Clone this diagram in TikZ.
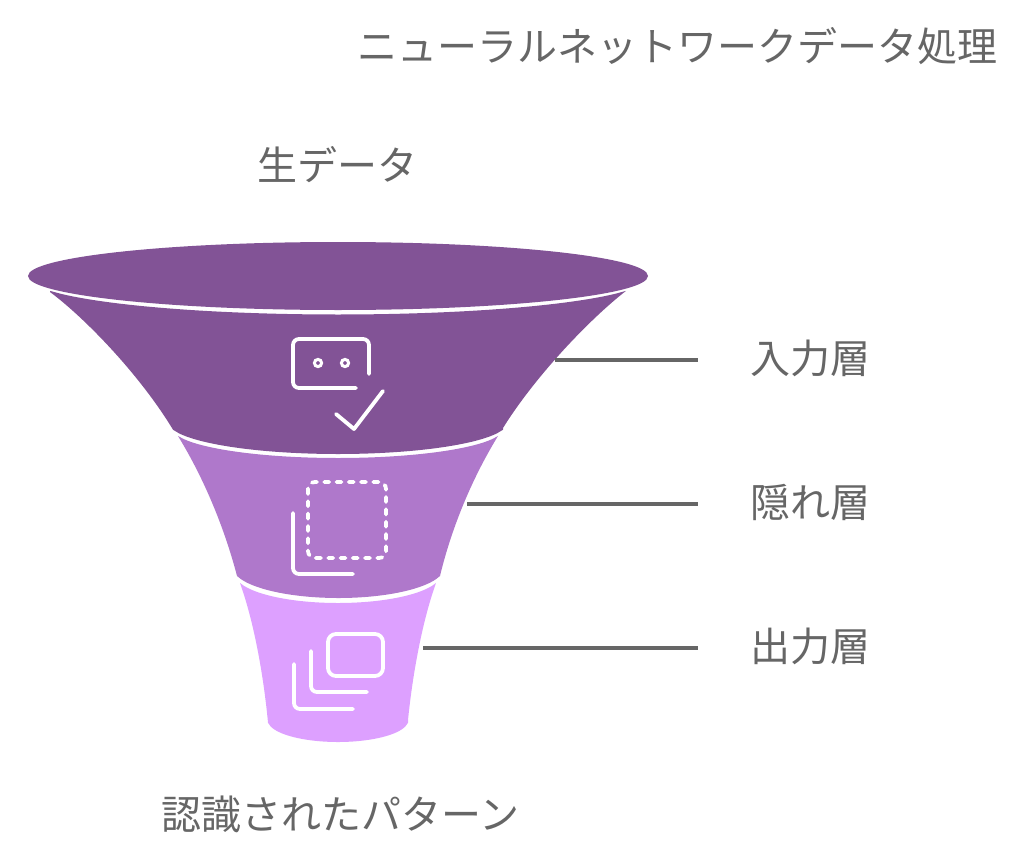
\documentclass[tikz,border=0pt]{standalone}
\usepackage{fontspec}
\setmainfont{Noto Sans CJK JP}
\definecolor{layerone}{HTML}{825396}
\definecolor{layertwo}{HTML}{AF78CB}
\definecolor{layerthree}{HTML}{DDA0FF}
\definecolor{inkgrey}{HTML}{666666}
\tikzset{
  label text/.style={inner sep=0pt,text=inkgrey,font=\fontsize{40}{44}\selectfont},
  leader/.style={draw=inkgrey,line width=4pt},
  icon/.style={draw=white,line width=3.8pt,line cap=round,line join=round},
  iconfine/.style={draw=white,line width=3pt},
  arcplot/.style={smooth,samples=50}
}
\begin{document}
\begin{tikzpicture}[x=1pt,y=-1pt]
\useasboundingbox (0,0) rectangle (1022,864);
% funnel rim
\fill[layerone] (338,276) ellipse [x radius=310pt,y radius=34pt];
% input layer
\fill[layerone] plot[arcplot,domain=50:626] (\x,{277+37.5*sqrt(1-((\x-338)/310)^2)})
  .. controls (591,318) and (536,375) .. (503,428)
  -- plot[arcplot,domain=503:173] (\x,{422+32*sqrt(1-((\x-338)/170)^2)})
  .. controls (140,375) and (85,318) .. (50,292) -- cycle;
% hidden layer
\fill[layertwo] plot[arcplot,domain=178:498] (\x,{428+30*sqrt(1-((\x-338)/166)^2)})
  .. controls (471,480) and (451,530) .. (440,576)
  -- plot[arcplot,domain=440:237] (\x,{567+31*sqrt(1-((\x-338.5)/106)^2)})
  .. controls (225,530) and (205,480) .. (178,436) -- cycle;
% output layer
\fill[layerthree] plot[arcplot,domain=240:436] (\x,{574+29*sqrt(1-((\x-338)/103)^2)})
  .. controls (421,625) and (412,680) .. (408,720)
  -- plot[arcplot,domain=408:268] (\x,{720+22*sqrt(1-((\x-338)/70.5)^2)})
  .. controls (264,680) and (255,625) .. (240,583) -- cycle;
% icon 1
\draw[icon,rounded corners=6pt] (369,374) -- (369,339) -- (293,339) -- (293,388) -- (356,388);
\draw[iconfine] (318,363) circle[radius=3.6pt];
\draw[iconfine] (345,363) circle[radius=3.6pt];
\draw[icon] (336,414) -- (354,429) -- (383,391);
% icon 2
\draw[icon,dash pattern=on 5pt off 7.3pt,rounded corners=7pt] (308,482) rectangle (386,558);
\draw[icon,rounded corners=6pt] (293,513) -- (293,574) -- (353,574);
% icon 3
\draw[icon,rounded corners=8pt] (328,634) rectangle (383,676);
\draw[icon,rounded corners=6pt] (311,651) -- (311,692) -- (367,692);
\draw[icon,rounded corners=6pt] (294,664) -- (294,709) -- (353,709);
% texts
\node[label text] (title) at (677,46) {ニューラルネットワークデータ処理};
\node[label text] (raw) at (337,165) {生データ};
\node[label text] (result) at (340,814) {認識されたパターン};
\node[label text] (inp) at (810,358) {入力層};
\node[label text] (hid) at (810,502) {隠れ層};
\node[label text] (out) at (810,646) {出力層};
% leaders
\coordinate (inpS) at (555,360); \coordinate (inpE) at (698,360);
\coordinate (hidS) at (467,504); \coordinate (hidE) at (698,504);
\coordinate (outS) at (423,648); \coordinate (outE) at (698,648);
\draw[leader] (inpS) -- (inpE);
\draw[leader] (hidS) -- (hidE);
\draw[leader] (outS) -- (outE);
\end{tikzpicture}
\end{document}
